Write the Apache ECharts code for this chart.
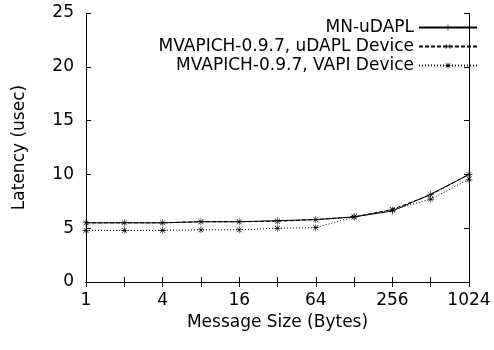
<!DOCTYPE html>
<html>
<head>
<meta charset="utf-8">
<script src="https://cdn.jsdelivr.net/npm/echarts@6/dist/echarts.min.js"></script>
<style>
  html, body { margin: 0; padding: 0; background: #fff; }
  #chart { width: 494px; height: 350px; }
</style>
</head>
<body>
<div id="chart"></div>
<script>
// Message sizes (bytes) and latency readings (usec)
const sizes = [1, 2, 4, 8, 16, 32, 64, 128, 256, 512, 1024];
const mnUdapl = [5.5, 5.5, 5.5, 5.6, 5.6, 5.7, 5.8, 6.05, 6.6, 8.15, 10.0];
const mvapichUdapl = [5.5, 5.5, 5.5, 5.6, 5.6, 5.65, 5.8, 6.05, 6.75, 8.1, 10.0];
const mvapichVapi = [4.8, 4.8, 4.8, 4.85, 4.85, 5.0, 5.05, 6.05, 6.7, 7.7, 9.55];
const yTicks = [0, 5, 10, 15, 20, 25];

const FONT = 'DejaVu Sans';
const FS = 17;
const plus = 'path://M0,4.6H10V5.4H0Z M4.6,0H5.4V10H4.6Z';
const star = 'path://M0,4.6H10V5.4H0Z M4.6,0H5.4V10H4.6Z M1.2,1.8L1.8,1.2L8.8,8.2L8.2,8.8Z M8.2,1.2L8.8,1.8L1.8,8.8L1.2,8.2Z';

const chart = echarts.init(document.getElementById('chart'));

function pairs(vals) {
    return sizes.map((s, i) => [s, vals[i]]);
}

function lineSeries(name, vals, type, symbol, rotate) {
    return {
        name: name,
        type: 'line',
        data: pairs(vals),
        symbol: symbol,
        symbolSize: 7,
        symbolRotate: rotate || 0,
        showAllSymbol: true,
        itemStyle: { color: '#000' },
        lineStyle: { color: '#000', width: 1, type: type },
        animation: false
    };
}

// only every other power of two gets a label
const xLabel = v => {
    const e = Math.round(Math.log2(v));
    return e % 2 === 0 ? String(Math.round(v)) : '';
};

const option = {
    backgroundColor: '#fff',
    animation: false,
    textStyle: { fontFamily: FONT },
    grid: { left: 86, right: 25, top: 13, bottom: 68 },
    legend: {
        orient: 'vertical',
        right: 16,
        top: 19,
        padding: 0,
        align: 'right',
        itemWidth: 58,
        itemHeight: 8,
        itemGap: 2,
        textStyle: { fontFamily: FONT, fontSize: FS, color: '#000' },
        data: ['MN-uDAPL', 'MVAPICH-0.9.7, uDAPL Device', 'MVAPICH-0.9.7, VAPI Device']
    },
    xAxis: [
        {
            type: 'log',
            logBase: 2,
            min: 1,
            max: 1024,
            interval: 1,
            splitNumber: 10,
            name: 'Message Size (Bytes)',
            nameLocation: 'middle',
            nameGap: 31,
            nameTextStyle: { fontFamily: FONT, fontSize: FS, color: '#000' },
            axisLine: { lineStyle: { color: '#000', width: 1 } },
            axisTick: { inside: true, length: 5, lineStyle: { color: '#000' } },
            axisLabel: { formatter: xLabel, fontFamily: FONT, fontSize: FS, color: '#000', margin: 10 },
            splitLine: { show: false }
        },
        {
            type: 'log',
            logBase: 2,
            min: 1,
            max: 1024,
            interval: 1,
            splitNumber: 10,
            position: 'top',
            axisLine: { lineStyle: { color: '#000', width: 1 } },
            axisTick: { inside: true, length: 5, lineStyle: { color: '#000' } },
            axisLabel: { show: false },
            splitLine: { show: false }
        }
    ],
    yAxis: [
        {
            type: 'value',
            min: yTicks[0],
            max: yTicks[yTicks.length - 1],
            interval: 5,
            name: 'Latency (usec)',
            nameLocation: 'middle',
            nameGap: 58,
            nameTextStyle: { fontFamily: FONT, fontSize: FS, color: '#000' },
            axisLine: { show: true, lineStyle: { color: '#000', width: 1 } },
            axisTick: { show: true, inside: true, length: 5, lineStyle: { color: '#000' } },
            axisLabel: { fontFamily: FONT, fontSize: FS, color: '#000', margin: 12 },
            splitLine: { show: false }
        },
        {
            type: 'value',
            min: yTicks[0],
            max: yTicks[yTicks.length - 1],
            interval: 5,
            position: 'right',
            axisLine: { show: true, lineStyle: { color: '#000', width: 1 } },
            axisTick: { show: true, inside: true, length: 5, lineStyle: { color: '#000' } },
            axisLabel: { show: false },
            splitLine: { show: false }
        }
    ],
    series: [
        lineSeries('MN-uDAPL', mnUdapl, 'solid', plus),
        lineSeries('MVAPICH-0.9.7, uDAPL Device', mvapichUdapl, [4, 2], plus, 45),
        lineSeries('MVAPICH-0.9.7, VAPI Device', mvapichVapi, [1, 2], star)
    ]
};

chart.setOption(option);
</script>
</body>
</html>
